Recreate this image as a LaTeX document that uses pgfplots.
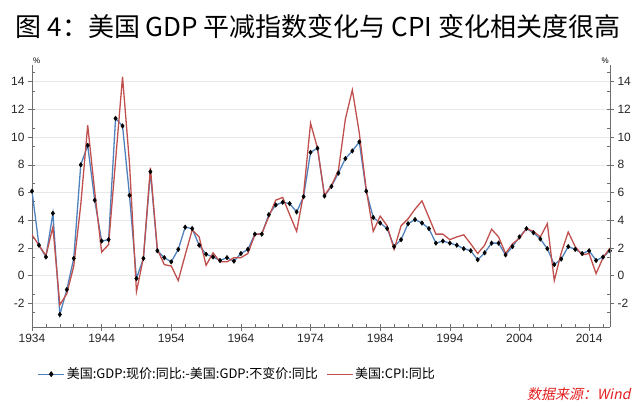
\documentclass[border=0pt]{standalone}
\usepackage{pgfplots}
\usepackage{pgfplotstable}
\pgfplotsset{compat=1.18}
\usepackage{fontspec}
\setmainfont{Liberation Sans}
\newfontfamily\cjk{Noto Sans CJK SC}
\newfontfamily\cjkit[FakeSlant=0.2]{Noto Sans CJK SC}
\definecolor{gdpblue}{RGB}{79,129,189}
\definecolor{cpired}{RGB}{192,80,77}
\definecolor{axgray}{RGB}{110,110,110}
\definecolor{gridgray}{RGB}{232,232,232}
\definecolor{srcred}{RGB}{228,30,30}

\pgfplotstableread{
year gdp cpi
1934 6.1 2.95
1935 2.2 2.2
1936 1.35 1.45
1937 4.5 3.5
1938 -2.8 -2.1
1939 -1.0 -1.3
1940 1.25 0.7
1941 8.0 5.1
1942 9.4 10.85
1943 5.45 6.1
1944 2.5 1.7
1945 2.6 2.25
1946 11.35 8.3
1947 10.8 14.35
1948 5.8 8.1
1949 -0.2 -1.15
1950 1.25 1.3
1951 7.5 7.8
1952 1.8 1.9
1953 1.3 0.8
1954 1.0 0.7
1955 1.9 -0.35
1956 3.5 1.5
1957 3.4 3.3
1958 2.2 2.8
1959 1.55 0.75
1960 1.35 1.65
1961 1.1 1.0
1962 1.3 1.0
1963 1.05 1.3
1964 1.6 1.3
1965 1.9 1.6
1966 3.0 2.95
1967 3.0 3.05
1968 4.4 4.25
1969 5.1 5.45
1970 5.3 5.65
1971 5.2 4.4
1972 4.6 3.2
1973 5.7 5.9
1974 8.9 11.0
1975 9.2 9.2
1976 5.75 5.8
1977 6.45 6.5
1978 7.4 7.6
1979 8.45 11.3
1980 9.0 13.4
1981 9.65 10.3
1982 6.1 6.2
1983 4.2 3.2
1984 3.8 4.3
1985 3.4 3.6
1986 2.1 1.9
1987 2.6 3.6
1988 3.75 4.1
1989 4.05 4.8
1990 3.8 5.4
1991 3.4 4.2
1992 2.35 3.0
1993 2.5 3.0
1994 2.35 2.6
1995 2.2 2.8
1996 1.95 2.95
1997 1.8 2.3
1998 1.15 1.6
1999 1.65 2.2
2000 2.35 3.35
2001 2.35 2.8
2002 1.5 1.6
2003 2.1 2.3
2004 2.8 2.7
2005 3.4 3.4
2006 3.1 3.2
2007 2.65 2.8
2008 1.95 3.75
2009 0.8 -0.35
2010 1.2 1.65
2011 2.1 3.15
2012 1.9 2.1
2013 1.6 1.5
2014 1.8 1.6
2015 1.1 0.15
2016 1.35 1.3
2017 1.8 2.0
}\usdata

\pgfplotsset{
  common/.style={
    at={(32pt,82pt)}, anchor=south west, scale only axis,
    width=578pt, height=262pt,
    xmin=1934, xmax=2017, ymin=-3.7, ymax=15.2,
    axis line style={axgray, line width=0.8pt, -},
    tick style={axgray, line width=0.6pt},
    tick align=outside, major tick length=4pt,
    ytick={-2,0,...,14},
    extra y ticks={-2.6667,-1.3333,1.3333,2.6667,4,5.3333,6.6667,8,9.3333,10.6667,12,13.3333,14.6667},
    extra y tick labels={},
    extra y tick style={tick align=inside, major tick length=3pt, grid=none},
    tick label style={font=\fontsize{12}{12}\selectfont, text=black!85},
    /pgf/number format/assume math mode=true,
  }
}

\begin{document}
\begin{tikzpicture}[x=1pt,y=1pt]
\path[use as bounding box] (0,0) rectangle (640,409);
\node[font=\cjk\fontsize{26}{26}\selectfont, anchor=center] at (318,382) {图 4：美国 GDP 平减指数变化与 CPI 变化相关度很高};

\begin{axis}[common, name=ax,
  axis x line*=bottom, axis y line*=left,
  xtick={1934,1944,...,2014},
  xticklabel style={/pgf/number format/set thousands separator={}},
  extra x ticks={1936,1938,...,2016}, extra x tick labels={},
  extra x tick style={tick align=inside, major tick length=3pt},
  ymajorgrids, grid style={gridgray, line width=0.6pt},
  legend style={at={(0.355,-0.18)}, anchor=center, draw=none, fill=none,
    legend columns=2, font=\cjk\fontsize{13}{13}\selectfont,
    /tikz/every even column/.append style={column sep=6pt},
    inner sep=0pt},
  legend image code/.code={\draw[mark repeat=2,mark phase=2,#1] plot coordinates {(0pt,0pt) (13pt,0pt) (26pt,0pt)};},
]
\addlegendimage{gdpblue, line width=1.3pt, mark=diamond*, mark size=2pt, mark options={black, fill=black, solid}}
\addlegendentry{美国:GDP:现价:同比:-美国:GDP:不变价:同比}
\addlegendimage{cpired, line width=1.3pt}
\addlegendentry{美国:CPI:同比}
\addplot[gdpblue, line width=1.3pt, forget plot] table[x=year, y=gdp]{\usdata};
\addplot[cpired, line width=1.3pt, forget plot] table[x=year, y=cpi]{\usdata};
\addplot[only marks, mark=diamond*, mark size=2.3pt, mark options={black, fill=black}, forget plot] table[x=year, y=gdp]{\usdata};
\end{axis}

\begin{axis}[common,
  axis x line=none, axis y line*=right,
]
\addplot[draw=none, forget plot] table[x=year, y=gdp]{\usdata};
\end{axis}

\node[font=\fontsize{8}{8}\selectfont, anchor=south west, inner sep=1pt] at (ax.north west) {\%};
\node[font=\fontsize{8}{8}\selectfont, anchor=south east, inner sep=1pt] at (ax.north east) {\%};
\node[font=\cjkit\fontsize{14}{14}\selectfont, text=srcred, anchor=east] at (634,15) {数据来源：Wind};
\end{tikzpicture}
\end{document}
